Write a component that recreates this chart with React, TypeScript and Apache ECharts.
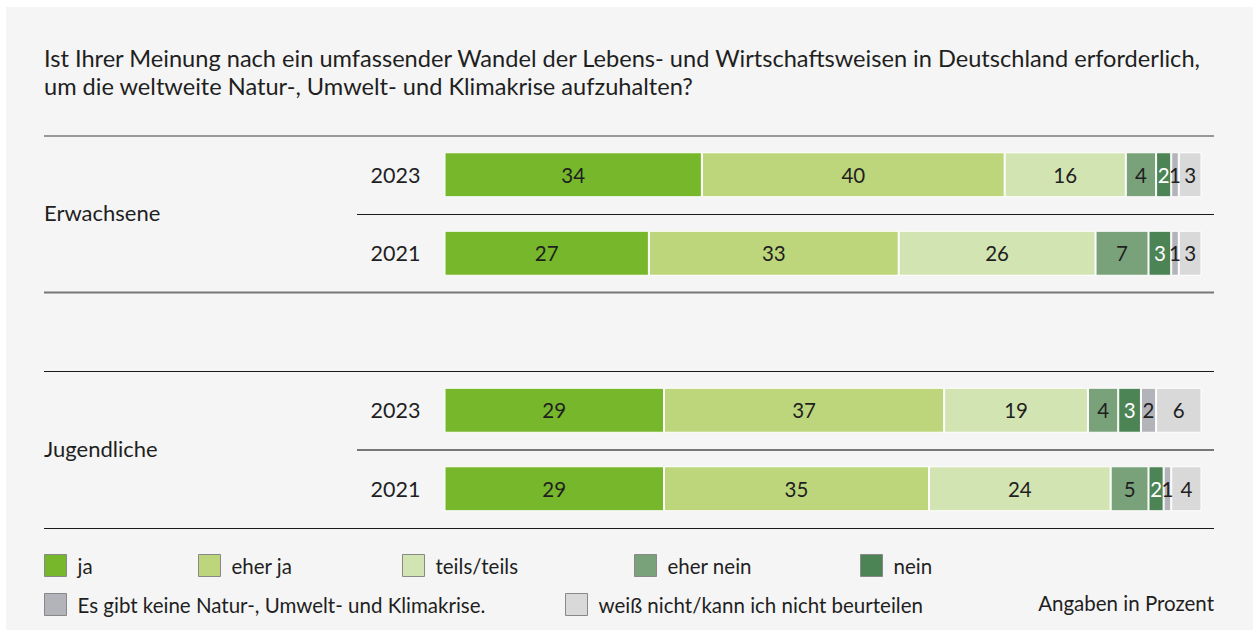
import React, { useEffect, useRef } from "react";
import * as echarts from "echarts";

const FONT = "Lato, 'Noto Sans', sans-serif";

const titleText =
  "Ist Ihrer Meinung nach ein umfassender Wandel der Lebens- und Wirtschaftsweisen in Deutschland erforderlich,\num die weltweite Natur-, Umwelt- und Klimakrise aufzuhalten?";

const yearLabels = ["2023", "2021", "", "2023", "2021"];
const groupLabels = ["Erwachsene", "Jugendliche"];

const seriesNames = [
  "ja",
  "eher ja",
  "teils/teils",
  "eher nein",
  "nein",
  "Es gibt keine Natur-, Umwelt- und Klimakrise.",
  "weiß nicht/kann ich nicht beurteilen",
];
const seriesColors = ["#77b72b", "#bdd67c", "#d3e4b3", "#7aa27a", "#4d8456", "#b3b3ba", "#d9d9d9"];
const labelColors = ["#1f1f1f", "#1f1f1f", "#1f1f1f", "#1f1f1f", "#ffffff", "#1f1f1f", "#1f1f1f"];

const valJa = [34, 27, null, 29, 29];
const valEherJa = [40, 33, null, 37, 35];
const valTeils = [16, 26, null, 19, 24];
const valEherNein = [4, 7, null, 4, 5];
const valNein = [2, 3, null, 3, 2];
const valKeine = [1, 1, null, 2, 1];
const valWeissNicht = [3, 3, null, 6, 4];

const seriesValues = [valJa, valEherJa, valTeils, valEherNein, valNein, valKeine, valWeissNicht];

const legendLeft = [44, 198, 402, 634, 860, 44, 565];
const legendTop = [554, 554, 554, 554, 554, 593, 593];

export default function App() {
  const ref = useRef<HTMLDivElement>(null);
  useEffect(() => {
    if (!ref.current) return;
    const chart = echarts.init(ref.current, null, { renderer: "svg" });
    const option: any = {
      animation: false,
      backgroundColor: "#ffffff",
      title: {
        text: titleText,
        left: 44,
        top: 44,
        padding: 0,
        textStyle: {
          fontFamily: FONT,
          fontSize: 23.6,
          fontWeight: "normal",
          color: "#1f1f1f",
          lineHeight: 28,
        },
      },
      grid: { left: 444.5, top: 135.5, width: 757, height: 392.5 },
      xAxis: { type: "value", min: 0, max: 100, show: false },
      yAxis: {
        type: "category",
        inverse: true,
        data: yearLabels,
        axisLine: { show: false },
        axisTick: { show: false },
        axisLabel: {
          margin: 24,
          fontFamily: FONT,
          fontSize: 21.5,
          color: "#1f1f1f",
        },
      },
      legend: seriesNames.map((name, i) => ({
        data: [name],
        left: legendLeft[i],
        top: legendTop[i],
        padding: 0,
        icon: "rect",
        itemWidth: 22,
        itemHeight: 22,
        selectedMode: false,
        itemStyle: { borderColor: "#888888", borderWidth: 1 },
        textStyle: {
          fontFamily: FONT,
          fontSize: 20.5,
          color: "#1f1f1f",
          padding: [0, 0, 0, 6],
        },
      })),
      series: seriesNames.map((name, i) => ({
        name,
        type: "bar",
        stack: "total",
        barWidth: 45,
        data: seriesValues[i].map((v) => (v === null ? "-" : v)),
        itemStyle: { color: seriesColors[i], borderColor: "#ffffff", borderWidth: 1 },
        label: {
          show: true,
          position: "inside",
          fontFamily: FONT,
          fontSize: 20.5,
          color: labelColors[i],
        },
      })),
      graphic: [
        {
          type: "rect",
          z: -10,
          shape: { x: 6, y: 7, width: 1247, height: 623 },
          style: { fill: "#f5f5f5" },
          silent: true,
        },
        { type: "line", shape: { x1: 44, y1: 136, x2: 1214, y2: 136 }, style: { stroke: "#777777", lineWidth: 1.5 } },
        { type: "line", shape: { x1: 357, y1: 214.5, x2: 1214, y2: 214.5 }, style: { stroke: "#1a1a1a", lineWidth: 1 } },
        { type: "line", shape: { x1: 44, y1: 292.5, x2: 1214, y2: 292.5 }, style: { stroke: "#777777", lineWidth: 2 } },
        { type: "line", shape: { x1: 44, y1: 371.5, x2: 1214, y2: 371.5 }, style: { stroke: "#1a1a1a", lineWidth: 1 } },
        { type: "line", shape: { x1: 357, y1: 450, x2: 1214, y2: 450 }, style: { stroke: "#777777", lineWidth: 2 } },
        { type: "line", shape: { x1: 44, y1: 528.5, x2: 1214, y2: 528.5 }, style: { stroke: "#1a1a1a", lineWidth: 1 } },
        {
          type: "text",
          left: 44,
          top: 201,
          style: { text: groupLabels[0], fontFamily: FONT, fontSize: 22, fill: "#1f1f1f" },
        },
        {
          type: "text",
          left: 44,
          top: 437,
          style: { text: groupLabels[1], fontFamily: FONT, fontSize: 22, fill: "#1f1f1f" },
        },
        {
          type: "text",
          right: 42,
          top: 592,
          style: { text: "Angaben in Prozent", fontFamily: FONT, fontSize: 20.5, fill: "#1f1f1f" },
        },
      ],
    };
    chart.setOption(option);
    return () => chart.dispose();
  }, []);
  return (
    <div
      ref={ref}
      style={{ position: "absolute", left: 0, top: 0, width: 1256, height: 632 }}
    />
  );
}
